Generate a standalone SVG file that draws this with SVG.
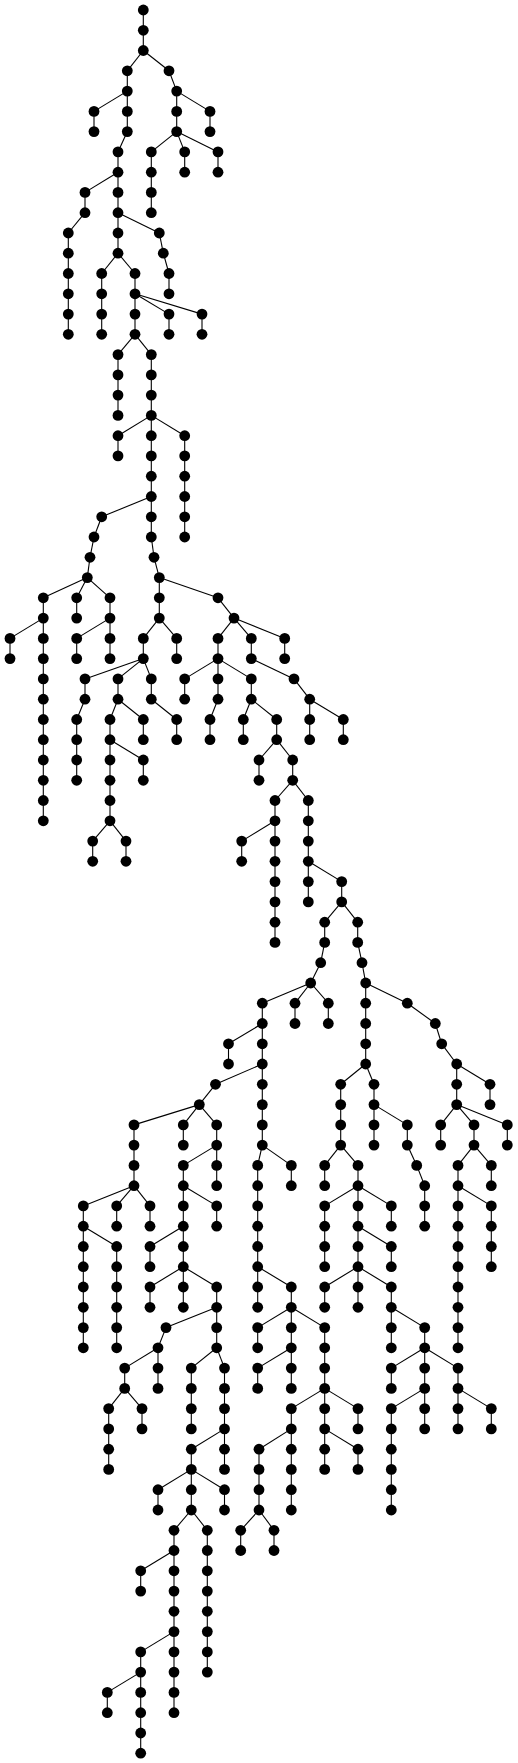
<svg xmlns="http://www.w3.org/2000/svg" width="518" height="1763" viewBox="0 0 518 1763">
<style>
#edges path{stroke:#000;stroke-width:1.1;fill:none}
.n circle{fill:#000}
</style>
<rect width="518" height="1763" fill="#fff"/>
<g id="edges">
<path d="M143.3 10L143.3 30.3"/><path d="M143.3 30.3L143.3 50.5"/><path d="M143.3 50.5L127.3 70.8"/><path d="M143.3 50.5L169 70.8"/><path d="M127.3 70.8L127.3 91.1"/><path d="M169 70.8L176.7 91.1"/><path d="M127.3 91.1L94 111.4"/><path d="M127.3 91.1L127.3 111.4"/><path d="M176.7 91.1L176.7 111.4"/><path d="M176.7 91.1L210 111.4"/><path d="M94 111.4L94 131.6"/><path d="M127.3 111.4L127.3 131.6"/><path d="M176.7 111.4L176.7 131.6"/><path d="M210 111.4L210 131.6"/><path d="M127.3 131.6L118 151.9"/><path d="M176.7 131.6L151.3 151.9"/><path d="M176.7 131.6L184.7 151.9"/><path d="M176.7 131.6L218 151.9"/><path d="M151.3 151.9L151.3 172.2"/><path d="M151.3 172.2L151.3 192.4"/><path d="M151.3 192.4L151.3 212.7"/><path d="M184.7 151.9L184.7 172.2"/><path d="M218 151.9L218 172.2"/><path d="M118 151.9L118 172.2"/><path d="M118 172.2L85 192.4"/><path d="M118 172.2L118 192.4"/><path d="M85 192.4L85 212.7"/><path d="M85 212.7L68.3 233"/><path d="M68.3 233L68.3 253.2"/><path d="M68.3 253.2L68.3 273.5"/><path d="M68.3 273.5L68.3 293.8"/><path d="M68.3 293.8L68.3 314.1"/><path d="M68.3 314.1L68.3 334.3"/><path d="M118 192.4L118 212.7"/><path d="M118 212.7L118 233"/><path d="M118 212.7L159.3 233"/><path d="M159.3 233L163.3 253.2"/><path d="M163.3 253.2L169 273.5"/><path d="M169 273.5L169 293.8"/><path d="M118 233L118 253.2"/><path d="M118 253.2L101.7 273.5"/><path d="M118 253.2L135 273.5"/><path d="M101.7 273.5L101.7 293.8"/><path d="M101.7 293.8L101.7 314.1"/><path d="M101.7 314.1L101.7 334.3"/><path d="M135 273.5L135 293.8"/><path d="M135 293.8L135 314.1"/><path d="M135 293.8L169 314.1"/><path d="M135 293.8L202 314.1"/><path d="M169 314.1L169 334.3"/><path d="M202 314.1L202 334.3"/><path d="M135 314.1L135 334.3"/><path d="M135 334.3L118 354.6"/><path d="M135 334.3L151.3 354.6"/><path d="M118 354.6L118 374.9"/><path d="M118 374.9L118 395.1"/><path d="M118 395.1L118 415.4"/><path d="M151.3 354.6L151.3 374.9"/><path d="M151.3 374.9L151.3 395.1"/><path d="M151.3 395.1L151.3 415.4"/><path d="M151.3 415.4L118 435.7"/><path d="M151.3 415.4L151.3 435.7"/><path d="M151.3 415.4L184.7 435.7"/><path d="M118 435.7L118 455.9"/><path d="M184.7 435.7L184.7 455.9"/><path d="M184.7 455.9L184.7 476.2"/><path d="M184.7 476.2L184.7 496.5"/><path d="M184.7 496.5L184.7 516.8"/><path d="M184.7 516.8L184.7 537"/><path d="M151.3 435.7L151.3 455.9"/><path d="M151.3 455.9L151.3 476.2"/><path d="M151.3 476.2L151.3 496.5"/><path d="M151.3 496.5L101.7 516.8"/><path d="M151.3 496.5L151.3 516.8"/><path d="M101.7 516.8L94 537"/><path d="M94 537L90 557.3"/><path d="M90 557.3L87.3 577.6"/><path d="M151.3 516.8L151.3 537"/><path d="M151.3 537L154 557.3"/><path d="M154 557.3L159.3 577.6"/><path d="M87.3 577.6L43.3 597.8"/><path d="M87.3 577.6L76.7 597.8"/><path d="M87.3 577.6L110 597.8"/><path d="M43.3 597.8L43.3 618.1"/><path d="M43.3 618.1L10 638.4"/><path d="M43.3 618.1L43.3 638.4"/><path d="M10 638.4L10 658.6"/><path d="M43.3 638.4L43.3 658.6"/><path d="M43.3 658.6L43.3 678.9"/><path d="M43.3 678.9L43.3 699.2"/><path d="M43.3 699.2L43.3 719.5"/><path d="M43.3 719.5L43.3 739.7"/><path d="M43.3 739.7L43.3 760"/><path d="M43.3 760L43.3 780.3"/><path d="M43.3 780.3L43.3 800.5"/><path d="M43.3 800.5L43.3 820.8"/><path d="M76.7 597.8L76.7 618.1"/><path d="M110 597.8L110 618.1"/><path d="M110 618.1L76.7 638.4"/><path d="M110 618.1L110 638.4"/><path d="M76.7 638.4L76.7 658.6"/><path d="M110 638.4L110 658.6"/><path d="M159.3 577.6L159.3 597.8"/><path d="M159.3 577.6L218 597.8"/><path d="M159.3 597.8L159.3 618.1"/><path d="M159.3 618.1L143.3 638.4"/><path d="M159.3 618.1L176.7 638.4"/><path d="M176.7 638.4L176.7 658.6"/><path d="M143.3 638.4L143.3 658.6"/><path d="M143.3 658.6L85 678.9"/><path d="M143.3 658.6L118 678.9"/><path d="M143.3 658.6L151.3 678.9"/><path d="M85 678.9L85 699.2"/><path d="M85 699.2L76.7 719.5"/><path d="M76.7 719.5L76.7 739.7"/><path d="M76.7 739.7L76.7 760"/><path d="M76.7 760L76.7 780.3"/><path d="M118 678.9L118 699.2"/><path d="M118 699.2L110 719.5"/><path d="M118 699.2L143.3 719.5"/><path d="M143.3 719.5L143.3 739.7"/><path d="M110 719.5L110 739.7"/><path d="M110 739.7L110 760"/><path d="M110 739.7L143.3 760"/><path d="M143.3 760L143.3 780.3"/><path d="M110 760L110 780.3"/><path d="M110 780.3L110 800.5"/><path d="M110 800.5L110 820.8"/><path d="M110 820.8L92.7 841.1"/><path d="M110 820.8L126 841.1"/><path d="M92.7 841.1L92.7 861.3"/><path d="M126 841.1L126 861.3"/><path d="M151.3 678.9L151.3 699.2"/><path d="M151.3 699.2L176.7 719.5"/><path d="M176.7 719.5L176.7 739.7"/><path d="M218 597.8L234 618.1"/><path d="M234 618.1L218 638.4"/><path d="M234 618.1L251.3 638.4"/><path d="M234 618.1L284.7 638.4"/><path d="M218 638.4L218 658.6"/><path d="M218 658.6L184.7 678.9"/><path d="M218 658.6L218 678.9"/><path d="M218 658.6L251.3 678.9"/><path d="M184.7 678.9L184.7 699.2"/><path d="M218 678.9L218 699.2"/><path d="M218 699.2L210 719.5"/><path d="M210 719.5L210 739.7"/><path d="M251.3 678.9L251.3 699.2"/><path d="M251.3 699.2L243.3 719.5"/><path d="M251.3 699.2L276.7 719.5"/><path d="M243.3 719.5L243.3 739.7"/><path d="M251.3 638.4L251.3 658.6"/><path d="M251.3 658.6L294 678.9"/><path d="M284.7 638.4L284.7 658.6"/><path d="M294 678.9L309.7 699.2"/><path d="M309.7 699.2L309.7 719.5"/><path d="M309.7 699.2L343.3 719.5"/><path d="M309.7 719.5L309.7 739.7"/><path d="M343.3 719.5L343.3 739.7"/><path d="M276.7 719.5L276.7 739.7"/><path d="M276.7 739.7L259 760"/><path d="M276.7 739.7L292.7 760"/><path d="M259 760L259 780.3"/><path d="M292.7 760L292.7 780.3"/><path d="M292.7 780.3L275 800.5"/><path d="M292.7 780.3L308.3 800.5"/><path d="M275 800.5L275 820.8"/><path d="M275 820.8L241.7 841.1"/><path d="M275 820.8L275 841.1"/><path d="M241.7 841.1L241.7 861.3"/><path d="M275 841.1L275 861.3"/><path d="M275 861.3L275 881.6"/><path d="M275 881.6L275 901.9"/><path d="M275 901.9L275 922.2"/><path d="M275 922.2L275 942.4"/><path d="M308.3 800.5L308.3 820.8"/><path d="M308.3 820.8L308.3 841.1"/><path d="M308.3 841.1L308.3 861.3"/><path d="M308.3 861.3L308.3 881.6"/><path d="M308.3 861.3L341.7 881.6"/><path d="M308.3 881.6L308.3 901.9"/><path d="M341.7 881.6L341.7 901.9"/><path d="M341.7 901.9L324.7 922.2"/><path d="M341.7 901.9L357.7 922.2"/><path d="M324.7 922.2L324.7 942.4"/><path d="M324.7 942.4L320.7 962.7"/><path d="M320.7 962.7L310.7 983"/><path d="M357.7 922.2L357.7 942.4"/><path d="M357.7 942.4L362 962.7"/><path d="M362 962.7L365.7 983"/><path d="M310.7 983L262.3 1003.2"/><path d="M310.7 983L295 1003.2"/><path d="M310.7 983L328.3 1003.2"/><path d="M262.3 1003.2L262.3 1023.5"/><path d="M295 1003.2L295 1023.5"/><path d="M328.3 1003.2L328.3 1023.5"/><path d="M365.7 983L365.7 1003.2"/><path d="M365.7 983L407.3 1003.2"/><path d="M365.7 1003.2L365.7 1023.5"/><path d="M407.3 1003.2L435.3 1023.5"/><path d="M262.3 1023.5L228.5 1043.8"/><path d="M262.3 1023.5L262.3 1043.8"/><path d="M228.5 1043.8L228.5 1064"/><path d="M262.3 1043.8L262.3 1064"/><path d="M262.3 1064L215.5 1084.3"/><path d="M262.3 1064L262.3 1084.3"/><path d="M215.5 1084.3L199.3 1104.6"/><path d="M199.3 1104.6L134 1124.9"/><path d="M199.3 1104.6L183.3 1124.9"/><path d="M199.3 1104.6L216.7 1124.9"/><path d="M134 1124.9L134 1145.1"/><path d="M134 1145.1L134 1165.4"/><path d="M134 1165.4L134 1185.7"/><path d="M134 1185.7L83.3 1205.9"/><path d="M134 1185.7L116.7 1205.9"/><path d="M134 1185.7L150 1205.9"/><path d="M83.3 1205.9L83.3 1226.2"/><path d="M83.3 1226.2L83.3 1246.5"/><path d="M83.3 1226.2L116.7 1246.5"/><path d="M83.3 1246.5L83.3 1266.7"/><path d="M83.3 1266.7L83.3 1287"/><path d="M83.3 1287L83.3 1307.3"/><path d="M83.3 1307.3L83.3 1327.6"/><path d="M83.3 1327.6L83.3 1347.8"/><path d="M116.7 1246.5L116.7 1266.7"/><path d="M116.7 1266.7L116.7 1287"/><path d="M116.7 1287L116.7 1307.3"/><path d="M116.7 1307.3L116.7 1327.6"/><path d="M116.7 1327.6L116.7 1347.8"/><path d="M116.7 1205.9L116.7 1226.2"/><path d="M150 1205.9L150 1226.2"/><path d="M183.3 1124.9L183.3 1145.1"/><path d="M216.7 1124.9L216.7 1145.1"/><path d="M216.7 1145.1L183.3 1165.4"/><path d="M216.7 1145.1L216.7 1165.4"/><path d="M216.7 1165.4L216.7 1185.7"/><path d="M183.3 1165.4L183.3 1185.7"/><path d="M183.3 1185.7L183.3 1205.9"/><path d="M183.3 1185.7L216.7 1205.9"/><path d="M216.7 1205.9L216.7 1226.2"/><path d="M183.3 1205.9L183.3 1226.2"/><path d="M183.3 1226.2L150 1246.5"/><path d="M183.3 1226.2L183.3 1246.5"/><path d="M150 1246.5L150 1266.7"/><path d="M183.3 1246.5L183.3 1266.7"/><path d="M183.3 1266.7L150 1287"/><path d="M183.3 1266.7L183.3 1287"/><path d="M183.3 1266.7L216.7 1287"/><path d="M150 1287L150 1307.3"/><path d="M183.3 1287L183.3 1307.3"/><path d="M216.7 1287L216.7 1307.3"/><path d="M216.7 1307.3L166 1327.6"/><path d="M216.7 1307.3L216.7 1327.6"/><path d="M166 1327.6L158 1347.8"/><path d="M158 1347.8L124.7 1368.1"/><path d="M158 1347.8L158 1368.1"/><path d="M216.7 1327.6L216.7 1347.8"/><path d="M216.7 1347.8L191.3 1368.1"/><path d="M216.7 1347.8L224.5 1368.1"/><path d="M124.7 1368.1L124.7 1388.4"/><path d="M124.7 1388.4L108.7 1408.6"/><path d="M124.7 1388.4L142 1408.6"/><path d="M108.7 1408.6L108.7 1428.9"/><path d="M108.7 1428.9L108.7 1449.2"/><path d="M108.7 1449.2L108.7 1469.4"/><path d="M142 1408.6L142 1428.9"/><path d="M158 1368.1L158 1388.4"/><path d="M191.3 1368.1L191.3 1388.4"/><path d="M191.3 1388.4L191.3 1408.6"/><path d="M191.3 1408.6L191.3 1428.9"/><path d="M224.5 1368.1L224.5 1388.4"/><path d="M224.5 1388.4L224.5 1408.6"/><path d="M224.5 1408.6L224.5 1428.9"/><path d="M224.5 1428.9L191.3 1449.2"/><path d="M224.5 1428.9L224.5 1449.2"/><path d="M224.5 1449.2L224.5 1469.4"/><path d="M191.3 1449.2L191.3 1469.4"/><path d="M191.3 1469.4L158 1489.7"/><path d="M191.3 1469.4L191.3 1489.7"/><path d="M191.3 1469.4L224.5 1489.7"/><path d="M158 1489.7L158 1510"/><path d="M224.5 1489.7L224.5 1510"/><path d="M191.3 1489.7L191.3 1510"/><path d="M191.3 1510L174 1530.3"/><path d="M191.3 1510L207.3 1530.3"/><path d="M174 1530.3L174 1550.5"/><path d="M174 1550.5L140.7 1570.8"/><path d="M174 1550.5L174 1570.8"/><path d="M140.7 1570.8L140.7 1591.1"/><path d="M174 1570.8L174 1591.1"/><path d="M174 1591.1L174 1611.3"/><path d="M174 1611.3L174 1631.6"/><path d="M174 1631.6L140.7 1651.9"/><path d="M174 1631.6L174 1651.9"/><path d="M174 1651.9L174 1672.1"/><path d="M174 1672.1L174 1692.4"/><path d="M174 1692.4L174 1712.7"/><path d="M140.7 1651.9L140.7 1672.1"/><path d="M140.7 1672.1L107.3 1692.4"/><path d="M140.7 1672.1L140.7 1692.4"/><path d="M107.3 1692.4L107.3 1712.7"/><path d="M140.7 1692.4L140.7 1712.7"/><path d="M140.7 1712.7L140.7 1733"/><path d="M140.7 1733L140.7 1753.2"/><path d="M207.3 1530.3L207.3 1550.5"/><path d="M207.3 1550.5L207.3 1570.8"/><path d="M207.3 1570.8L207.3 1591.1"/><path d="M207.3 1591.1L207.3 1611.3"/><path d="M207.3 1611.3L207.3 1631.6"/><path d="M207.3 1631.6L207.3 1651.9"/><path d="M207.3 1651.9L207.3 1672.1"/><path d="M262.3 1084.3L262.3 1104.6"/><path d="M262.3 1104.6L262.3 1124.9"/><path d="M262.3 1124.9L262.3 1145.1"/><path d="M262.3 1145.1L257.7 1165.4"/><path d="M262.3 1145.1L291.3 1165.4"/><path d="M291.3 1165.4L291.3 1185.7"/><path d="M257.7 1165.4L257.7 1185.7"/><path d="M257.7 1185.7L257.7 1205.9"/><path d="M257.7 1205.9L257.7 1226.2"/><path d="M257.7 1226.2L257.7 1246.5"/><path d="M257.7 1246.5L257.7 1266.7"/><path d="M257.7 1266.7L257.7 1287"/><path d="M257.7 1266.7L291.3 1287"/><path d="M257.7 1287L257.7 1307.3"/><path d="M291.3 1287L291.3 1307.3"/><path d="M291.3 1307.3L257.7 1327.6"/><path d="M291.3 1307.3L291.3 1327.6"/><path d="M291.3 1307.3L324.7 1327.6"/><path d="M257.7 1327.6L257.7 1347.8"/><path d="M291.3 1327.6L291.3 1347.8"/><path d="M291.3 1347.8L257.7 1368.1"/><path d="M291.3 1347.8L291.3 1368.1"/><path d="M257.7 1368.1L257.7 1388.4"/><path d="M291.3 1368.1L291.3 1388.4"/><path d="M324.7 1327.6L324.7 1347.8"/><path d="M324.7 1347.8L324.7 1368.1"/><path d="M324.7 1368.1L324.7 1388.4"/><path d="M324.7 1388.4L291.3 1408.6"/><path d="M324.7 1388.4L324.7 1408.6"/><path d="M324.7 1388.4L358 1408.6"/><path d="M291.3 1408.6L291.3 1428.9"/><path d="M291.3 1428.9L259 1449.2"/><path d="M291.3 1428.9L291.3 1449.2"/><path d="M291.3 1449.2L291.3 1469.4"/><path d="M291.3 1469.4L291.3 1489.7"/><path d="M291.3 1489.7L291.3 1510"/><path d="M259 1449.2L259 1469.4"/><path d="M259 1469.4L259 1489.7"/><path d="M259 1489.7L259 1510"/><path d="M259 1510L240.7 1530.3"/><path d="M259 1510L274 1530.3"/><path d="M240.7 1530.3L240.7 1550.5"/><path d="M274 1530.3L274 1550.5"/><path d="M324.7 1408.6L324.7 1428.9"/><path d="M324.7 1428.9L324.7 1449.2"/><path d="M324.7 1428.9L358 1449.2"/><path d="M324.7 1449.2L324.7 1469.4"/><path d="M358 1449.2L358 1469.4"/><path d="M358 1408.6L358 1428.9"/><path d="M365.7 1023.5L365.7 1043.8"/><path d="M365.7 1043.8L365.7 1064"/><path d="M365.7 1064L340.7 1084.3"/><path d="M365.7 1064L374 1084.3"/><path d="M340.7 1084.3L340.7 1104.6"/><path d="M340.7 1104.6L340.7 1124.9"/><path d="M340.7 1124.9L340.7 1145.1"/><path d="M340.7 1145.1L324.7 1165.4"/><path d="M340.7 1145.1L358 1165.4"/><path d="M324.7 1165.4L324.7 1185.7"/><path d="M358 1165.4L358 1185.7"/><path d="M358 1185.7L324.7 1205.9"/><path d="M358 1185.7L358 1205.9"/><path d="M358 1185.7L391.3 1205.9"/><path d="M324.7 1205.9L324.7 1226.2"/><path d="M324.7 1226.2L324.7 1246.5"/><path d="M324.7 1246.5L324.7 1266.7"/><path d="M391.3 1205.9L391.3 1226.2"/><path d="M358 1205.9L358 1226.2"/><path d="M358 1226.2L358 1246.5"/><path d="M358 1226.2L391.3 1246.5"/><path d="M391.3 1246.5L391.3 1266.7"/><path d="M358 1246.5L358 1266.7"/><path d="M358 1266.7L324.7 1287"/><path d="M358 1266.7L358 1287"/><path d="M358 1266.7L391.3 1287"/><path d="M324.7 1287L324.7 1307.3"/><path d="M358 1287L358 1307.3"/><path d="M391.3 1287L391.3 1307.3"/><path d="M391.3 1307.3L391.3 1327.6"/><path d="M391.3 1307.3L424.7 1327.6"/><path d="M391.3 1327.6L391.3 1347.8"/><path d="M424.7 1327.6L424.7 1347.8"/><path d="M424.7 1347.8L391.3 1368.1"/><path d="M424.7 1347.8L424.7 1368.1"/><path d="M424.7 1347.8L458 1368.1"/><path d="M391.3 1368.1L391.3 1388.4"/><path d="M424.7 1368.1L424.7 1388.4"/><path d="M424.7 1388.4L391.3 1408.6"/><path d="M424.7 1388.4L424.7 1408.6"/><path d="M391.3 1408.6L391.3 1428.9"/><path d="M391.3 1428.9L391.3 1449.2"/><path d="M391.3 1449.2L391.3 1469.4"/><path d="M391.3 1469.4L391.3 1489.7"/><path d="M391.3 1489.7L391.3 1510"/><path d="M424.7 1408.6L424.7 1428.9"/><path d="M458 1368.1L458 1388.4"/><path d="M458 1388.4L458 1408.6"/><path d="M458 1388.4L491.3 1408.6"/><path d="M458 1408.6L458 1428.9"/><path d="M491.3 1408.6L491.3 1428.9"/><path d="M374 1084.3L374 1104.6"/><path d="M374 1104.6L374 1124.9"/><path d="M374 1104.6L407.3 1124.9"/><path d="M374 1124.9L374 1145.1"/><path d="M407.3 1124.9L407.3 1145.1"/><path d="M407.3 1145.1L416.7 1165.4"/><path d="M416.7 1165.4L424.7 1185.7"/><path d="M424.7 1185.7L424.7 1205.9"/><path d="M424.7 1205.9L424.7 1226.2"/><path d="M435.3 1023.5L441.7 1043.8"/><path d="M441.7 1043.8L456.7 1064"/><path d="M456.7 1064L456.7 1084.3"/><path d="M456.7 1064L490 1084.3"/><path d="M490 1084.3L490 1104.6"/><path d="M456.7 1084.3L456.7 1104.6"/><path d="M456.7 1104.6L440.7 1124.9"/><path d="M456.7 1104.6L474 1124.9"/><path d="M456.7 1104.6L507.3 1124.9"/><path d="M440.7 1124.9L440.7 1145.1"/><path d="M507.3 1124.9L507.3 1145.1"/><path d="M474 1124.9L474 1145.1"/><path d="M474 1145.1L458 1165.4"/><path d="M474 1145.1L491.3 1165.4"/><path d="M491.3 1165.4L491.3 1185.7"/><path d="M458 1165.4L458 1185.7"/><path d="M458 1185.7L458 1205.9"/><path d="M458 1185.7L491.3 1205.9"/><path d="M491.3 1205.9L491.3 1226.2"/><path d="M491.3 1226.2L491.3 1246.5"/><path d="M491.3 1246.5L491.3 1266.7"/><path d="M458 1205.9L458 1226.2"/><path d="M458 1226.2L458 1246.5"/><path d="M458 1246.5L458 1266.7"/><path d="M458 1266.7L458 1287"/><path d="M458 1287L458 1307.3"/><path d="M458 1307.3L458 1327.6"/><path d="M458 1327.6L458 1347.8"/>
</g>
<g class="n">
<g id="n0"><circle cx="143.3" cy="10" r="5.4"/></g>
<g id="n1"><circle cx="143.3" cy="30.3" r="5.4"/></g>
<g id="n2"><circle cx="143.3" cy="50.5" r="5.4"/></g>
<g id="n3"><circle cx="127.3" cy="70.8" r="5.4"/></g>
<g id="n4"><circle cx="169" cy="70.8" r="5.4"/></g>
<g id="n5"><circle cx="127.3" cy="91.1" r="5.4"/></g>
<g id="n6"><circle cx="176.7" cy="91.1" r="5.4"/></g>
<g id="n7"><circle cx="94" cy="111.4" r="5.4"/></g>
<g id="n8"><circle cx="127.3" cy="111.4" r="5.4"/></g>
<g id="n9"><circle cx="176.7" cy="111.4" r="5.4"/></g>
<g id="n10"><circle cx="210" cy="111.4" r="5.4"/></g>
<g id="n11"><circle cx="94" cy="131.6" r="5.4"/></g>
<g id="n12"><circle cx="127.3" cy="131.6" r="5.4"/></g>
<g id="n13"><circle cx="176.7" cy="131.6" r="5.4"/></g>
<g id="n14"><circle cx="210" cy="131.6" r="5.4"/></g>
<g id="n15"><circle cx="118" cy="151.9" r="5.4"/></g>
<g id="n16"><circle cx="151.3" cy="151.9" r="5.4"/></g>
<g id="n17"><circle cx="184.7" cy="151.9" r="5.4"/></g>
<g id="n18"><circle cx="218" cy="151.9" r="5.4"/></g>
<g id="n19"><circle cx="151.3" cy="172.2" r="5.4"/></g>
<g id="n20"><circle cx="151.3" cy="192.4" r="5.4"/></g>
<g id="n21"><circle cx="151.3" cy="212.7" r="5.4"/></g>
<g id="n22"><circle cx="184.7" cy="172.2" r="5.4"/></g>
<g id="n23"><circle cx="218" cy="172.2" r="5.4"/></g>
<g id="n24"><circle cx="118" cy="172.2" r="5.4"/></g>
<g id="n25"><circle cx="85" cy="192.4" r="5.4"/></g>
<g id="n26"><circle cx="118" cy="192.4" r="5.4"/></g>
<g id="n27"><circle cx="85" cy="212.7" r="5.4"/></g>
<g id="n28"><circle cx="68.3" cy="233" r="5.4"/></g>
<g id="n29"><circle cx="68.3" cy="253.2" r="5.4"/></g>
<g id="n30"><circle cx="68.3" cy="273.5" r="5.4"/></g>
<g id="n31"><circle cx="68.3" cy="293.8" r="5.4"/></g>
<g id="n32"><circle cx="68.3" cy="314.1" r="5.4"/></g>
<g id="n33"><circle cx="68.3" cy="334.3" r="5.4"/></g>
<g id="n34"><circle cx="118" cy="212.7" r="5.4"/></g>
<g id="n35"><circle cx="118" cy="233" r="5.4"/></g>
<g id="n36"><circle cx="159.3" cy="233" r="5.4"/></g>
<g id="n37"><circle cx="163.3" cy="253.2" r="5.4"/></g>
<g id="n38"><circle cx="169" cy="273.5" r="5.4"/></g>
<g id="n39"><circle cx="169" cy="293.8" r="5.4"/></g>
<g id="n40"><circle cx="118" cy="253.2" r="5.4"/></g>
<g id="n41"><circle cx="101.7" cy="273.5" r="5.4"/></g>
<g id="n42"><circle cx="135" cy="273.5" r="5.4"/></g>
<g id="n43"><circle cx="101.7" cy="293.8" r="5.4"/></g>
<g id="n44"><circle cx="101.7" cy="314.1" r="5.4"/></g>
<g id="n45"><circle cx="101.7" cy="334.3" r="5.4"/></g>
<g id="n46"><circle cx="135" cy="293.8" r="5.4"/></g>
<g id="n47"><circle cx="135" cy="314.1" r="5.4"/></g>
<g id="n48"><circle cx="169" cy="314.1" r="5.4"/></g>
<g id="n49"><circle cx="202" cy="314.1" r="5.4"/></g>
<g id="n50"><circle cx="169" cy="334.3" r="5.4"/></g>
<g id="n51"><circle cx="202" cy="334.3" r="5.4"/></g>
<g id="n52"><circle cx="135" cy="334.3" r="5.4"/></g>
<g id="n53"><circle cx="118" cy="354.6" r="5.4"/></g>
<g id="n54"><circle cx="151.3" cy="354.6" r="5.4"/></g>
<g id="n55"><circle cx="118" cy="374.9" r="5.4"/></g>
<g id="n56"><circle cx="118" cy="395.1" r="5.4"/></g>
<g id="n57"><circle cx="118" cy="415.4" r="5.4"/></g>
<g id="n58"><circle cx="151.3" cy="374.9" r="5.4"/></g>
<g id="n59"><circle cx="151.3" cy="395.1" r="5.4"/></g>
<g id="n60"><circle cx="151.3" cy="415.4" r="5.4"/></g>
<g id="n61"><circle cx="118" cy="435.7" r="5.4"/></g>
<g id="n62"><circle cx="151.3" cy="435.7" r="5.4"/></g>
<g id="n63"><circle cx="184.7" cy="435.7" r="5.4"/></g>
<g id="n64"><circle cx="118" cy="455.9" r="5.4"/></g>
<g id="n65"><circle cx="184.7" cy="455.9" r="5.4"/></g>
<g id="n66"><circle cx="184.7" cy="476.2" r="5.4"/></g>
<g id="n67"><circle cx="184.7" cy="496.5" r="5.4"/></g>
<g id="n68"><circle cx="184.7" cy="516.8" r="5.4"/></g>
<g id="n69"><circle cx="184.7" cy="537" r="5.4"/></g>
<g id="n70"><circle cx="151.3" cy="455.9" r="5.4"/></g>
<g id="n71"><circle cx="151.3" cy="476.2" r="5.4"/></g>
<g id="n72"><circle cx="151.3" cy="496.5" r="5.4"/></g>
<g id="n73"><circle cx="101.7" cy="516.8" r="5.4"/></g>
<g id="n74"><circle cx="151.3" cy="516.8" r="5.4"/></g>
<g id="n75"><circle cx="94" cy="537" r="5.4"/></g>
<g id="n76"><circle cx="90" cy="557.3" r="5.4"/></g>
<g id="n77"><circle cx="87.3" cy="577.6" r="5.4"/></g>
<g id="n78"><circle cx="151.3" cy="537" r="5.4"/></g>
<g id="n79"><circle cx="154" cy="557.3" r="5.4"/></g>
<g id="n80"><circle cx="159.3" cy="577.6" r="5.4"/></g>
<g id="n81"><circle cx="43.3" cy="597.8" r="5.4"/></g>
<g id="n82"><circle cx="76.7" cy="597.8" r="5.4"/></g>
<g id="n83"><circle cx="110" cy="597.8" r="5.4"/></g>
<g id="n84"><circle cx="43.3" cy="618.1" r="5.4"/></g>
<g id="n85"><circle cx="10" cy="638.4" r="5.4"/></g>
<g id="n86"><circle cx="43.3" cy="638.4" r="5.4"/></g>
<g id="n87"><circle cx="10" cy="658.6" r="5.4"/></g>
<g id="n88"><circle cx="43.3" cy="658.6" r="5.4"/></g>
<g id="n89"><circle cx="43.3" cy="678.9" r="5.4"/></g>
<g id="n90"><circle cx="43.3" cy="699.2" r="5.4"/></g>
<g id="n91"><circle cx="43.3" cy="719.5" r="5.4"/></g>
<g id="n92"><circle cx="43.3" cy="739.7" r="5.4"/></g>
<g id="n93"><circle cx="43.3" cy="760" r="5.4"/></g>
<g id="n94"><circle cx="43.3" cy="780.3" r="5.4"/></g>
<g id="n95"><circle cx="43.3" cy="800.5" r="5.4"/></g>
<g id="n96"><circle cx="43.3" cy="820.8" r="5.4"/></g>
<g id="n97"><circle cx="76.7" cy="618.1" r="5.4"/></g>
<g id="n98"><circle cx="110" cy="618.1" r="5.4"/></g>
<g id="n99"><circle cx="76.7" cy="638.4" r="5.4"/></g>
<g id="n100"><circle cx="110" cy="638.4" r="5.4"/></g>
<g id="n101"><circle cx="76.7" cy="658.6" r="5.4"/></g>
<g id="n102"><circle cx="110" cy="658.6" r="5.4"/></g>
<g id="n103"><circle cx="159.3" cy="597.8" r="5.4"/></g>
<g id="n104"><circle cx="218" cy="597.8" r="5.4"/></g>
<g id="n105"><circle cx="159.3" cy="618.1" r="5.4"/></g>
<g id="n106"><circle cx="143.3" cy="638.4" r="5.4"/></g>
<g id="n107"><circle cx="176.7" cy="638.4" r="5.4"/></g>
<g id="n108"><circle cx="176.7" cy="658.6" r="5.4"/></g>
<g id="n109"><circle cx="143.3" cy="658.6" r="5.4"/></g>
<g id="n110"><circle cx="85" cy="678.9" r="5.4"/></g>
<g id="n111"><circle cx="118" cy="678.9" r="5.4"/></g>
<g id="n112"><circle cx="151.3" cy="678.9" r="5.4"/></g>
<g id="n113"><circle cx="85" cy="699.2" r="5.4"/></g>
<g id="n114"><circle cx="76.7" cy="719.5" r="5.4"/></g>
<g id="n115"><circle cx="76.7" cy="739.7" r="5.4"/></g>
<g id="n116"><circle cx="76.7" cy="760" r="5.4"/></g>
<g id="n117"><circle cx="76.7" cy="780.3" r="5.4"/></g>
<g id="n118"><circle cx="118" cy="699.2" r="5.4"/></g>
<g id="n119"><circle cx="110" cy="719.5" r="5.4"/></g>
<g id="n120"><circle cx="143.3" cy="719.5" r="5.4"/></g>
<g id="n121"><circle cx="143.3" cy="739.7" r="5.4"/></g>
<g id="n122"><circle cx="110" cy="739.7" r="5.4"/></g>
<g id="n123"><circle cx="110" cy="760" r="5.4"/></g>
<g id="n124"><circle cx="143.3" cy="760" r="5.4"/></g>
<g id="n125"><circle cx="143.3" cy="780.3" r="5.4"/></g>
<g id="n126"><circle cx="110" cy="780.3" r="5.4"/></g>
<g id="n127"><circle cx="110" cy="800.5" r="5.4"/></g>
<g id="n128"><circle cx="110" cy="820.8" r="5.4"/></g>
<g id="n129"><circle cx="92.7" cy="841.1" r="5.4"/></g>
<g id="n130"><circle cx="126" cy="841.1" r="5.4"/></g>
<g id="n131"><circle cx="92.7" cy="861.3" r="5.4"/></g>
<g id="n132"><circle cx="126" cy="861.3" r="5.4"/></g>
<g id="n133"><circle cx="151.3" cy="699.2" r="5.4"/></g>
<g id="n134"><circle cx="176.7" cy="719.5" r="5.4"/></g>
<g id="n135"><circle cx="176.7" cy="739.7" r="5.4"/></g>
<g id="n136"><circle cx="234" cy="618.1" r="5.4"/></g>
<g id="n137"><circle cx="218" cy="638.4" r="5.4"/></g>
<g id="n138"><circle cx="251.3" cy="638.4" r="5.4"/></g>
<g id="n139"><circle cx="284.7" cy="638.4" r="5.4"/></g>
<g id="n140"><circle cx="218" cy="658.6" r="5.4"/></g>
<g id="n141"><circle cx="184.7" cy="678.9" r="5.4"/></g>
<g id="n142"><circle cx="218" cy="678.9" r="5.4"/></g>
<g id="n143"><circle cx="251.3" cy="678.9" r="5.4"/></g>
<g id="n144"><circle cx="184.7" cy="699.2" r="5.4"/></g>
<g id="n145"><circle cx="218" cy="699.2" r="5.4"/></g>
<g id="n146"><circle cx="210" cy="719.5" r="5.4"/></g>
<g id="n147"><circle cx="210" cy="739.7" r="5.4"/></g>
<g id="n148"><circle cx="251.3" cy="699.2" r="5.4"/></g>
<g id="n149"><circle cx="243.3" cy="719.5" r="5.4"/></g>
<g id="n150"><circle cx="276.7" cy="719.5" r="5.4"/></g>
<g id="n151"><circle cx="243.3" cy="739.7" r="5.4"/></g>
<g id="n152"><circle cx="251.3" cy="658.6" r="5.4"/></g>
<g id="n153"><circle cx="294" cy="678.9" r="5.4"/></g>
<g id="n154"><circle cx="284.7" cy="658.6" r="5.4"/></g>
<g id="n155"><circle cx="309.7" cy="699.2" r="5.4"/></g>
<g id="n156"><circle cx="309.7" cy="719.5" r="5.4"/></g>
<g id="n157"><circle cx="343.3" cy="719.5" r="5.4"/></g>
<g id="n158"><circle cx="309.7" cy="739.7" r="5.4"/></g>
<g id="n159"><circle cx="343.3" cy="739.7" r="5.4"/></g>
<g id="n160"><circle cx="276.7" cy="739.7" r="5.4"/></g>
<g id="n161"><circle cx="259" cy="760" r="5.4"/></g>
<g id="n162"><circle cx="292.7" cy="760" r="5.4"/></g>
<g id="n163"><circle cx="259" cy="780.3" r="5.4"/></g>
<g id="n164"><circle cx="292.7" cy="780.3" r="5.4"/></g>
<g id="n165"><circle cx="275" cy="800.5" r="5.4"/></g>
<g id="n166"><circle cx="308.3" cy="800.5" r="5.4"/></g>
<g id="n167"><circle cx="275" cy="820.8" r="5.4"/></g>
<g id="n168"><circle cx="241.7" cy="841.1" r="5.4"/></g>
<g id="n169"><circle cx="275" cy="841.1" r="5.4"/></g>
<g id="n170"><circle cx="241.7" cy="861.3" r="5.4"/></g>
<g id="n171"><circle cx="275" cy="861.3" r="5.4"/></g>
<g id="n172"><circle cx="275" cy="881.6" r="5.4"/></g>
<g id="n173"><circle cx="275" cy="901.9" r="5.4"/></g>
<g id="n174"><circle cx="275" cy="922.2" r="5.4"/></g>
<g id="n175"><circle cx="275" cy="942.4" r="5.4"/></g>
<g id="n176"><circle cx="308.3" cy="820.8" r="5.4"/></g>
<g id="n177"><circle cx="308.3" cy="841.1" r="5.4"/></g>
<g id="n178"><circle cx="308.3" cy="861.3" r="5.4"/></g>
<g id="n179"><circle cx="308.3" cy="881.6" r="5.4"/></g>
<g id="n180"><circle cx="341.7" cy="881.6" r="5.4"/></g>
<g id="n181"><circle cx="308.3" cy="901.9" r="5.4"/></g>
<g id="n182"><circle cx="341.7" cy="901.9" r="5.4"/></g>
<g id="n183"><circle cx="324.7" cy="922.2" r="5.4"/></g>
<g id="n184"><circle cx="357.7" cy="922.2" r="5.4"/></g>
<g id="n185"><circle cx="324.7" cy="942.4" r="5.4"/></g>
<g id="n186"><circle cx="320.7" cy="962.7" r="5.4"/></g>
<g id="n187"><circle cx="310.7" cy="983" r="5.4"/></g>
<g id="n188"><circle cx="357.7" cy="942.4" r="5.4"/></g>
<g id="n189"><circle cx="362" cy="962.7" r="5.4"/></g>
<g id="n190"><circle cx="365.7" cy="983" r="5.4"/></g>
<g id="n191"><circle cx="262.3" cy="1003.2" r="5.4"/></g>
<g id="n192"><circle cx="295" cy="1003.2" r="5.4"/></g>
<g id="n193"><circle cx="328.3" cy="1003.2" r="5.4"/></g>
<g id="n194"><circle cx="262.3" cy="1023.5" r="5.4"/></g>
<g id="n195"><circle cx="295" cy="1023.5" r="5.4"/></g>
<g id="n196"><circle cx="328.3" cy="1023.5" r="5.4"/></g>
<g id="n197"><circle cx="365.7" cy="1003.2" r="5.4"/></g>
<g id="n198"><circle cx="407.3" cy="1003.2" r="5.4"/></g>
<g id="n199"><circle cx="365.7" cy="1023.5" r="5.4"/></g>
<g id="n200"><circle cx="435.3" cy="1023.5" r="5.4"/></g>
<g id="n201"><circle cx="228.5" cy="1043.8" r="5.4"/></g>
<g id="n202"><circle cx="262.3" cy="1043.8" r="5.4"/></g>
<g id="n203"><circle cx="228.5" cy="1064" r="5.4"/></g>
<g id="n204"><circle cx="262.3" cy="1064" r="5.4"/></g>
<g id="n205"><circle cx="215.5" cy="1084.3" r="5.4"/></g>
<g id="n206"><circle cx="262.3" cy="1084.3" r="5.4"/></g>
<g id="n207"><circle cx="199.3" cy="1104.6" r="5.4"/></g>
<g id="n208"><circle cx="134" cy="1124.9" r="5.4"/></g>
<g id="n209"><circle cx="183.3" cy="1124.9" r="5.4"/></g>
<g id="n210"><circle cx="216.7" cy="1124.9" r="5.4"/></g>
<g id="n211"><circle cx="134" cy="1145.1" r="5.4"/></g>
<g id="n212"><circle cx="134" cy="1165.4" r="5.4"/></g>
<g id="n213"><circle cx="134" cy="1185.7" r="5.4"/></g>
<g id="n214"><circle cx="83.3" cy="1205.9" r="5.4"/></g>
<g id="n215"><circle cx="116.7" cy="1205.9" r="5.4"/></g>
<g id="n216"><circle cx="150" cy="1205.9" r="5.4"/></g>
<g id="n217"><circle cx="83.3" cy="1226.2" r="5.4"/></g>
<g id="n218"><circle cx="83.3" cy="1246.5" r="5.4"/></g>
<g id="n219"><circle cx="116.7" cy="1246.5" r="5.4"/></g>
<g id="n220"><circle cx="83.3" cy="1266.7" r="5.4"/></g>
<g id="n221"><circle cx="83.3" cy="1287" r="5.4"/></g>
<g id="n222"><circle cx="83.3" cy="1307.3" r="5.4"/></g>
<g id="n223"><circle cx="83.3" cy="1327.6" r="5.4"/></g>
<g id="n224"><circle cx="83.3" cy="1347.8" r="5.4"/></g>
<g id="n225"><circle cx="116.7" cy="1266.7" r="5.4"/></g>
<g id="n226"><circle cx="116.7" cy="1287" r="5.4"/></g>
<g id="n227"><circle cx="116.7" cy="1307.3" r="5.4"/></g>
<g id="n228"><circle cx="116.7" cy="1327.6" r="5.4"/></g>
<g id="n229"><circle cx="116.7" cy="1347.8" r="5.4"/></g>
<g id="n230"><circle cx="116.7" cy="1226.2" r="5.4"/></g>
<g id="n231"><circle cx="150" cy="1226.2" r="5.4"/></g>
<g id="n232"><circle cx="183.3" cy="1145.1" r="5.4"/></g>
<g id="n233"><circle cx="216.7" cy="1145.1" r="5.4"/></g>
<g id="n234"><circle cx="183.3" cy="1165.4" r="5.4"/></g>
<g id="n235"><circle cx="216.7" cy="1165.4" r="5.4"/></g>
<g id="n236"><circle cx="216.7" cy="1185.7" r="5.4"/></g>
<g id="n237"><circle cx="183.3" cy="1185.7" r="5.4"/></g>
<g id="n238"><circle cx="183.3" cy="1205.9" r="5.4"/></g>
<g id="n239"><circle cx="216.7" cy="1205.9" r="5.4"/></g>
<g id="n240"><circle cx="216.7" cy="1226.2" r="5.4"/></g>
<g id="n241"><circle cx="183.3" cy="1226.2" r="5.4"/></g>
<g id="n242"><circle cx="150" cy="1246.5" r="5.4"/></g>
<g id="n243"><circle cx="183.3" cy="1246.5" r="5.4"/></g>
<g id="n244"><circle cx="150" cy="1266.7" r="5.4"/></g>
<g id="n245"><circle cx="183.3" cy="1266.7" r="5.4"/></g>
<g id="n246"><circle cx="150" cy="1287" r="5.4"/></g>
<g id="n247"><circle cx="183.3" cy="1287" r="5.4"/></g>
<g id="n248"><circle cx="216.7" cy="1287" r="5.4"/></g>
<g id="n249"><circle cx="150" cy="1307.3" r="5.4"/></g>
<g id="n250"><circle cx="183.3" cy="1307.3" r="5.4"/></g>
<g id="n251"><circle cx="216.7" cy="1307.3" r="5.4"/></g>
<g id="n252"><circle cx="166" cy="1327.6" r="5.4"/></g>
<g id="n253"><circle cx="216.7" cy="1327.6" r="5.4"/></g>
<g id="n254"><circle cx="158" cy="1347.8" r="5.4"/></g>
<g id="n255"><circle cx="124.7" cy="1368.1" r="5.4"/></g>
<g id="n256"><circle cx="158" cy="1368.1" r="5.4"/></g>
<g id="n257"><circle cx="216.7" cy="1347.8" r="5.4"/></g>
<g id="n258"><circle cx="191.3" cy="1368.1" r="5.4"/></g>
<g id="n259"><circle cx="224.5" cy="1368.1" r="5.4"/></g>
<g id="n260"><circle cx="124.7" cy="1388.4" r="5.4"/></g>
<g id="n261"><circle cx="108.7" cy="1408.6" r="5.4"/></g>
<g id="n262"><circle cx="142" cy="1408.6" r="5.4"/></g>
<g id="n263"><circle cx="108.7" cy="1428.9" r="5.4"/></g>
<g id="n264"><circle cx="108.7" cy="1449.2" r="5.4"/></g>
<g id="n265"><circle cx="108.7" cy="1469.4" r="5.4"/></g>
<g id="n266"><circle cx="142" cy="1428.9" r="5.4"/></g>
<g id="n267"><circle cx="158" cy="1388.4" r="5.4"/></g>
<g id="n268"><circle cx="191.3" cy="1388.4" r="5.4"/></g>
<g id="n269"><circle cx="191.3" cy="1408.6" r="5.4"/></g>
<g id="n270"><circle cx="191.3" cy="1428.9" r="5.4"/></g>
<g id="n271"><circle cx="224.5" cy="1388.4" r="5.4"/></g>
<g id="n272"><circle cx="224.5" cy="1408.6" r="5.4"/></g>
<g id="n273"><circle cx="224.5" cy="1428.9" r="5.4"/></g>
<g id="n274"><circle cx="191.3" cy="1449.2" r="5.4"/></g>
<g id="n275"><circle cx="224.5" cy="1449.2" r="5.4"/></g>
<g id="n276"><circle cx="224.5" cy="1469.4" r="5.4"/></g>
<g id="n277"><circle cx="191.3" cy="1469.4" r="5.4"/></g>
<g id="n278"><circle cx="158" cy="1489.7" r="5.4"/></g>
<g id="n279"><circle cx="191.3" cy="1489.7" r="5.4"/></g>
<g id="n280"><circle cx="224.5" cy="1489.7" r="5.4"/></g>
<g id="n281"><circle cx="158" cy="1510" r="5.4"/></g>
<g id="n282"><circle cx="224.5" cy="1510" r="5.4"/></g>
<g id="n283"><circle cx="191.3" cy="1510" r="5.4"/></g>
<g id="n284"><circle cx="174" cy="1530.3" r="5.4"/></g>
<g id="n285"><circle cx="207.3" cy="1530.3" r="5.4"/></g>
<g id="n286"><circle cx="174" cy="1550.5" r="5.4"/></g>
<g id="n287"><circle cx="140.7" cy="1570.8" r="5.4"/></g>
<g id="n288"><circle cx="174" cy="1570.8" r="5.4"/></g>
<g id="n289"><circle cx="140.7" cy="1591.1" r="5.4"/></g>
<g id="n290"><circle cx="174" cy="1591.1" r="5.4"/></g>
<g id="n291"><circle cx="174" cy="1611.3" r="5.4"/></g>
<g id="n292"><circle cx="174" cy="1631.6" r="5.4"/></g>
<g id="n293"><circle cx="140.7" cy="1651.9" r="5.4"/></g>
<g id="n294"><circle cx="174" cy="1651.9" r="5.4"/></g>
<g id="n295"><circle cx="174" cy="1672.1" r="5.4"/></g>
<g id="n296"><circle cx="174" cy="1692.4" r="5.4"/></g>
<g id="n297"><circle cx="174" cy="1712.7" r="5.4"/></g>
<g id="n298"><circle cx="140.7" cy="1672.1" r="5.4"/></g>
<g id="n299"><circle cx="107.3" cy="1692.4" r="5.4"/></g>
<g id="n300"><circle cx="140.7" cy="1692.4" r="5.4"/></g>
<g id="n301"><circle cx="107.3" cy="1712.7" r="5.4"/></g>
<g id="n302"><circle cx="140.7" cy="1712.7" r="5.4"/></g>
<g id="n303"><circle cx="140.7" cy="1733" r="5.4"/></g>
<g id="n304"><circle cx="140.7" cy="1753.2" r="5.4"/></g>
<g id="n305"><circle cx="207.3" cy="1550.5" r="5.4"/></g>
<g id="n306"><circle cx="207.3" cy="1570.8" r="5.4"/></g>
<g id="n307"><circle cx="207.3" cy="1591.1" r="5.4"/></g>
<g id="n308"><circle cx="207.3" cy="1611.3" r="5.4"/></g>
<g id="n309"><circle cx="207.3" cy="1631.6" r="5.4"/></g>
<g id="n310"><circle cx="207.3" cy="1651.9" r="5.4"/></g>
<g id="n311"><circle cx="207.3" cy="1672.1" r="5.4"/></g>
<g id="n312"><circle cx="262.3" cy="1104.6" r="5.4"/></g>
<g id="n313"><circle cx="262.3" cy="1124.9" r="5.4"/></g>
<g id="n314"><circle cx="262.3" cy="1145.1" r="5.4"/></g>
<g id="n315"><circle cx="257.7" cy="1165.4" r="5.4"/></g>
<g id="n316"><circle cx="291.3" cy="1165.4" r="5.4"/></g>
<g id="n317"><circle cx="291.3" cy="1185.7" r="5.4"/></g>
<g id="n318"><circle cx="257.7" cy="1185.7" r="5.4"/></g>
<g id="n319"><circle cx="257.7" cy="1205.9" r="5.4"/></g>
<g id="n320"><circle cx="257.7" cy="1226.2" r="5.4"/></g>
<g id="n321"><circle cx="257.7" cy="1246.5" r="5.4"/></g>
<g id="n322"><circle cx="257.7" cy="1266.7" r="5.4"/></g>
<g id="n323"><circle cx="257.7" cy="1287" r="5.4"/></g>
<g id="n324"><circle cx="291.3" cy="1287" r="5.4"/></g>
<g id="n325"><circle cx="257.7" cy="1307.3" r="5.4"/></g>
<g id="n326"><circle cx="291.3" cy="1307.3" r="5.4"/></g>
<g id="n327"><circle cx="257.7" cy="1327.6" r="5.4"/></g>
<g id="n328"><circle cx="291.3" cy="1327.6" r="5.4"/></g>
<g id="n329"><circle cx="324.7" cy="1327.6" r="5.4"/></g>
<g id="n330"><circle cx="257.7" cy="1347.8" r="5.4"/></g>
<g id="n331"><circle cx="291.3" cy="1347.8" r="5.4"/></g>
<g id="n332"><circle cx="257.7" cy="1368.1" r="5.4"/></g>
<g id="n333"><circle cx="291.3" cy="1368.1" r="5.4"/></g>
<g id="n334"><circle cx="257.7" cy="1388.4" r="5.4"/></g>
<g id="n335"><circle cx="291.3" cy="1388.4" r="5.4"/></g>
<g id="n336"><circle cx="324.7" cy="1347.8" r="5.4"/></g>
<g id="n337"><circle cx="324.7" cy="1368.1" r="5.4"/></g>
<g id="n338"><circle cx="324.7" cy="1388.4" r="5.4"/></g>
<g id="n339"><circle cx="291.3" cy="1408.6" r="5.4"/></g>
<g id="n340"><circle cx="324.7" cy="1408.6" r="5.4"/></g>
<g id="n341"><circle cx="358" cy="1408.6" r="5.4"/></g>
<g id="n342"><circle cx="291.3" cy="1428.9" r="5.4"/></g>
<g id="n343"><circle cx="259" cy="1449.2" r="5.4"/></g>
<g id="n344"><circle cx="291.3" cy="1449.2" r="5.4"/></g>
<g id="n345"><circle cx="291.3" cy="1469.4" r="5.4"/></g>
<g id="n346"><circle cx="291.3" cy="1489.7" r="5.4"/></g>
<g id="n347"><circle cx="291.3" cy="1510" r="5.4"/></g>
<g id="n348"><circle cx="259" cy="1469.4" r="5.4"/></g>
<g id="n349"><circle cx="259" cy="1489.7" r="5.4"/></g>
<g id="n350"><circle cx="259" cy="1510" r="5.4"/></g>
<g id="n351"><circle cx="240.7" cy="1530.3" r="5.4"/></g>
<g id="n352"><circle cx="274" cy="1530.3" r="5.4"/></g>
<g id="n353"><circle cx="240.7" cy="1550.5" r="5.4"/></g>
<g id="n354"><circle cx="274" cy="1550.5" r="5.4"/></g>
<g id="n355"><circle cx="324.7" cy="1428.9" r="5.4"/></g>
<g id="n356"><circle cx="324.7" cy="1449.2" r="5.4"/></g>
<g id="n357"><circle cx="358" cy="1449.2" r="5.4"/></g>
<g id="n358"><circle cx="324.7" cy="1469.4" r="5.4"/></g>
<g id="n359"><circle cx="358" cy="1469.4" r="5.4"/></g>
<g id="n360"><circle cx="358" cy="1428.9" r="5.4"/></g>
<g id="n361"><circle cx="365.7" cy="1043.8" r="5.4"/></g>
<g id="n362"><circle cx="365.7" cy="1064" r="5.4"/></g>
<g id="n363"><circle cx="340.7" cy="1084.3" r="5.4"/></g>
<g id="n364"><circle cx="374" cy="1084.3" r="5.4"/></g>
<g id="n365"><circle cx="340.7" cy="1104.6" r="5.4"/></g>
<g id="n366"><circle cx="340.7" cy="1124.9" r="5.4"/></g>
<g id="n367"><circle cx="340.7" cy="1145.1" r="5.4"/></g>
<g id="n368"><circle cx="324.7" cy="1165.4" r="5.4"/></g>
<g id="n369"><circle cx="358" cy="1165.4" r="5.4"/></g>
<g id="n370"><circle cx="324.7" cy="1185.7" r="5.4"/></g>
<g id="n371"><circle cx="358" cy="1185.7" r="5.4"/></g>
<g id="n372"><circle cx="324.7" cy="1205.9" r="5.4"/></g>
<g id="n373"><circle cx="358" cy="1205.9" r="5.4"/></g>
<g id="n374"><circle cx="391.3" cy="1205.9" r="5.4"/></g>
<g id="n375"><circle cx="324.7" cy="1226.2" r="5.4"/></g>
<g id="n376"><circle cx="324.7" cy="1246.5" r="5.4"/></g>
<g id="n377"><circle cx="324.7" cy="1266.7" r="5.4"/></g>
<g id="n378"><circle cx="391.3" cy="1226.2" r="5.4"/></g>
<g id="n379"><circle cx="358" cy="1226.2" r="5.4"/></g>
<g id="n380"><circle cx="358" cy="1246.5" r="5.4"/></g>
<g id="n381"><circle cx="391.3" cy="1246.5" r="5.4"/></g>
<g id="n382"><circle cx="391.3" cy="1266.7" r="5.4"/></g>
<g id="n383"><circle cx="358" cy="1266.7" r="5.4"/></g>
<g id="n384"><circle cx="324.7" cy="1287" r="5.4"/></g>
<g id="n385"><circle cx="358" cy="1287" r="5.4"/></g>
<g id="n386"><circle cx="391.3" cy="1287" r="5.4"/></g>
<g id="n387"><circle cx="324.7" cy="1307.3" r="5.4"/></g>
<g id="n388"><circle cx="358" cy="1307.3" r="5.4"/></g>
<g id="n389"><circle cx="391.3" cy="1307.3" r="5.4"/></g>
<g id="n390"><circle cx="391.3" cy="1327.6" r="5.4"/></g>
<g id="n391"><circle cx="424.7" cy="1327.6" r="5.4"/></g>
<g id="n392"><circle cx="391.3" cy="1347.8" r="5.4"/></g>
<g id="n393"><circle cx="424.7" cy="1347.8" r="5.4"/></g>
<g id="n394"><circle cx="391.3" cy="1368.1" r="5.4"/></g>
<g id="n395"><circle cx="424.7" cy="1368.1" r="5.4"/></g>
<g id="n396"><circle cx="458" cy="1368.1" r="5.4"/></g>
<g id="n397"><circle cx="391.3" cy="1388.4" r="5.4"/></g>
<g id="n398"><circle cx="424.7" cy="1388.4" r="5.4"/></g>
<g id="n399"><circle cx="391.3" cy="1408.6" r="5.4"/></g>
<g id="n400"><circle cx="424.7" cy="1408.6" r="5.4"/></g>
<g id="n401"><circle cx="391.3" cy="1428.9" r="5.4"/></g>
<g id="n402"><circle cx="391.3" cy="1449.2" r="5.4"/></g>
<g id="n403"><circle cx="391.3" cy="1469.4" r="5.4"/></g>
<g id="n404"><circle cx="391.3" cy="1489.7" r="5.4"/></g>
<g id="n405"><circle cx="391.3" cy="1510" r="5.4"/></g>
<g id="n406"><circle cx="424.7" cy="1428.9" r="5.4"/></g>
<g id="n407"><circle cx="458" cy="1388.4" r="5.4"/></g>
<g id="n408"><circle cx="458" cy="1408.6" r="5.4"/></g>
<g id="n409"><circle cx="491.3" cy="1408.6" r="5.4"/></g>
<g id="n410"><circle cx="458" cy="1428.9" r="5.4"/></g>
<g id="n411"><circle cx="491.3" cy="1428.9" r="5.4"/></g>
<g id="n412"><circle cx="374" cy="1104.6" r="5.4"/></g>
<g id="n413"><circle cx="374" cy="1124.9" r="5.4"/></g>
<g id="n414"><circle cx="407.3" cy="1124.9" r="5.4"/></g>
<g id="n415"><circle cx="374" cy="1145.1" r="5.4"/></g>
<g id="n416"><circle cx="407.3" cy="1145.1" r="5.4"/></g>
<g id="n417"><circle cx="416.7" cy="1165.4" r="5.4"/></g>
<g id="n418"><circle cx="424.7" cy="1185.7" r="5.4"/></g>
<g id="n419"><circle cx="424.7" cy="1205.9" r="5.4"/></g>
<g id="n420"><circle cx="424.7" cy="1226.2" r="5.4"/></g>
<g id="n421"><circle cx="441.7" cy="1043.8" r="5.4"/></g>
<g id="n422"><circle cx="456.7" cy="1064" r="5.4"/></g>
<g id="n423"><circle cx="456.7" cy="1084.3" r="5.4"/></g>
<g id="n424"><circle cx="490" cy="1084.3" r="5.4"/></g>
<g id="n425"><circle cx="490" cy="1104.6" r="5.4"/></g>
<g id="n426"><circle cx="456.7" cy="1104.6" r="5.4"/></g>
<g id="n427"><circle cx="440.7" cy="1124.9" r="5.4"/></g>
<g id="n428"><circle cx="474" cy="1124.9" r="5.4"/></g>
<g id="n429"><circle cx="507.3" cy="1124.9" r="5.4"/></g>
<g id="n430"><circle cx="440.7" cy="1145.1" r="5.4"/></g>
<g id="n431"><circle cx="507.3" cy="1145.1" r="5.4"/></g>
<g id="n432"><circle cx="474" cy="1145.1" r="5.4"/></g>
<g id="n433"><circle cx="458" cy="1165.4" r="5.4"/></g>
<g id="n434"><circle cx="491.3" cy="1165.4" r="5.4"/></g>
<g id="n435"><circle cx="491.3" cy="1185.7" r="5.4"/></g>
<g id="n436"><circle cx="458" cy="1185.7" r="5.4"/></g>
<g id="n437"><circle cx="458" cy="1205.9" r="5.4"/></g>
<g id="n438"><circle cx="491.3" cy="1205.9" r="5.4"/></g>
<g id="n439"><circle cx="491.3" cy="1226.2" r="5.4"/></g>
<g id="n440"><circle cx="491.3" cy="1246.5" r="5.4"/></g>
<g id="n441"><circle cx="491.3" cy="1266.7" r="5.4"/></g>
<g id="n442"><circle cx="458" cy="1226.2" r="5.4"/></g>
<g id="n443"><circle cx="458" cy="1246.5" r="5.4"/></g>
<g id="n444"><circle cx="458" cy="1266.7" r="5.4"/></g>
<g id="n445"><circle cx="458" cy="1287" r="5.4"/></g>
<g id="n446"><circle cx="458" cy="1307.3" r="5.4"/></g>
<g id="n447"><circle cx="458" cy="1327.6" r="5.4"/></g>
<g id="n448"><circle cx="458" cy="1347.8" r="5.4"/></g>
</g>
</svg>
